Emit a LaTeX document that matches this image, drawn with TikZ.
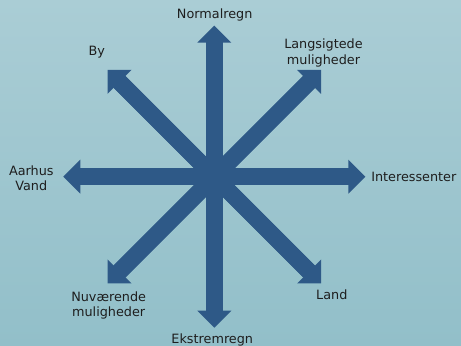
\documentclass[tikz,border=0pt]{standalone}
\usepackage{fontspec}
\setmainfont{DejaVu Sans}
\usetikzlibrary{
    arrows.meta,
    positioning
}
\definecolor{bgtop}{RGB}{170,205,213}
\definecolor{bgbottom}{RGB}{146,191,201}
\definecolor{spokeblue}{RGB}{46,89,135}
\definecolor{textgray}{RGB}{30,30,30}
\newcommand{\tagfont}{\fontsize{9.6}{11.6}\selectfont}

\begin{document}
\begin{tikzpicture}[
    x=0.75pt, y=0.75pt,
    spoke/.style={-{Triangle[width=25.5pt, length=12.75pt, line width=0pt]},
        line width=12.5pt, draw=spokeblue},
    shaft/.style={line width=12.5pt, draw=spokeblue, shorten >=8pt},
    tag/.style={font=\tagfont, text=textgray, align=center, inner sep=0pt}
]
% Background
\fill[top color=bgtop, bottom color=bgbottom] (-214.3,-169.3) rectangle (246.7,176.7);
\useasboundingbox (-214.3,-169.3) rectangle (246.7,176.7);

% Hub and spoke ends
\coordinate (hub) at (0,0);
\coordinate (tipN)  at (90:151);
\coordinate (tipNE) at (45:151);
\coordinate (tipE)  at (0:151);
\coordinate (tipSE) at (-45:151);
\coordinate (tipS)  at (-90:151);
\coordinate (tipSW) at (-135:151);
\coordinate (tipW)  at (180:151);
\coordinate (tipNW) at (135:151);

% Spokes (shaft drawn again into the head to hide the seam)
\foreach \t in {N,NE,E,SE,S,SW,W,NW}{
    \draw[spoke] (hub) -- (tip\t);
    \draw[shaft] (hub) -- (tip\t);
}

% Labels
\node[tag] (normal)   at (0.4,161.5)   {Normalregn};
\node[tag] (langsigt) at (109.2,123.9) {Langsigtede\\muligheder};
\node[tag, anchor=west] (interes) at (156.7,0) {Interessenter};
\node[tag] (land)     at (117.5,-117.6) {Land};
\node[tag] (ekstrem)  at (-2,-163.3)   {Ekstremregn};
\node[tag] (nuvaer)   at (-105.6,-128.8) {Nuværende\\muligheder};
\node[tag] (aarhus)   at (-183,-1.3)   {Aarhus\\Vand};
\node[tag] (by)       at (-117.6,124.4) {By};
\end{tikzpicture}
\end{document}
